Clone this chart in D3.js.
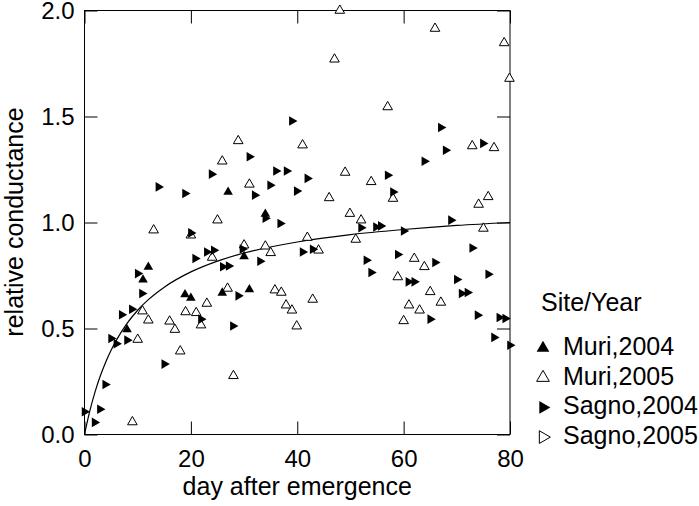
<!DOCTYPE html>
<html>
<head>
<meta charset="utf-8">
<script src="https://cdn.jsdelivr.net/npm/d3@7"></script>
<style>
  html, body { margin: 0; padding: 0; background: #fff; }
  svg { display: block; }
  text { font-family: "Liberation Sans", Arial, Helvetica, sans-serif; fill: #000; }
</style>
</head>
<body>
<svg id="chart" width="699" height="506"></svg>
<script>
// ---- data ----
const xTicks = [0, 20, 40, 60, 80];
const yTicks = [0, 0.5, 1.0, 1.5, 2.0];
const yTickLabels = ["0.0", "0.5", "1.0", "1.5", "2.0"];
const xLabel = "day after emergence";
const yLabel = "relative conductance";
const legendTitle = "Site/Year";
const seriesNames = ["Muri,2004", "Muri,2005", "Sagno,2004", "Sagno,2005"];

// Muri 2004 (filled up triangles): [day, value]
const muri2004 = [
  [27.0, 1.144], [34.0, 1.04], [30.0, 0.84], [12.0, 0.79], [11.0, 0.73],
  [25.9, 0.668], [31.0, 0.684], [18.9, 0.66], [20.0, 0.644], [8.0, 0.495]
];
// Muri 2005 (open up triangles)
const muri2005 = [
  [48.0, 2.0], [65.9, 1.915], [78.9, 1.847], [79.9, 1.679], [47.0, 1.77],
  [57.0, 1.545], [28.9, 1.385], [25.9, 1.289], [41.0, 1.365], [31.0, 1.18],
  [72.9, 1.361], [77.0, 1.352], [49.0, 1.236], [53.9, 1.192], [58.0, 1.113],
  [46.0, 1.116], [75.9, 1.121], [74.1, 1.085], [49.9, 1.042], [52.0, 1.011],
  [25.0, 1.011], [13.0, 0.964], [20.0, 0.94], [75.0, 0.972], [41.9, 0.929],
  [51.0, 0.92], [44.0, 0.869], [62.0, 0.83], [63.9, 0.791], [58.9, 0.743],
  [65.0, 0.673], [67.0, 0.623], [61.0, 0.61], [63.0, 0.586], [60.0, 0.536],
  [42.9, 0.637], [39.0, 0.586], [39.9, 0.511], [24.0, 0.835], [30.0, 0.893],
  [34.0, 0.888], [35.0, 0.857], [26.9, 0.689], [23.0, 0.618], [35.8, 0.681],
  [37.0, 0.67], [37.9, 0.61], [10.9, 0.582], [12.0, 0.539], [10.0, 0.448],
  [16.0, 0.534], [17.0, 0.495], [19.0, 0.578], [21.0, 0.574], [21.9, 0.516],
  [18.0, 0.393], [28.0, 0.277], [9.0, 0.059]
];
// Sagno 2004 (filled right-pointing triangles)
const sagno2004 = [
  [13.9, 1.168], [18.9, 1.137], [20.0, 0.951], [23.9, 1.228], [31.0, 1.31],
  [32.0, 1.129], [34.0, 1.02], [34.9, 1.176], [36.0, 1.243], [38.0, 1.243],
  [36.8, 0.995], [39.0, 1.479], [39.9, 1.148], [67.0, 1.448], [67.9, 1.341],
  [74.9, 1.373], [63.9, 1.289], [41.9, 1.208], [57.0, 1.223], [58.0, 1.144],
  [52.0, 0.975], [54.8, 0.979], [55.7, 0.984], [60.0, 0.96], [68.9, 1.011],
  [41.0, 0.861], [42.9, 0.874], [53.0, 0.822], [53.9, 0.764], [58.9, 0.849],
  [65.9, 0.811], [60.9, 0.72], [62.0, 0.72], [72.9, 0.88], [75.9, 0.756],
  [70.0, 0.731], [70.9, 0.665], [72.0, 0.67], [65.0, 0.544], [73.9, 0.563],
  [78.0, 0.552], [79.1, 0.547], [77.0, 0.458], [80.0, 0.421], [23.0, 0.861],
  [24.3, 0.869], [20.8, 0.83], [29.7, 0.875], [33.0, 0.817], [26.0, 0.791],
  [27.1, 0.795], [10.0, 0.759], [10.8, 0.665], [28.9, 0.654], [7.0, 0.565],
  [8.9, 0.591], [21.9, 0.544], [27.9, 0.512], [5.0, 0.453], [6.0, 0.428],
  [8.0, 0.445], [15.0, 0.332], [3.9, 0.236], [2.9, 0.119], [0.0, 0.107],
  [1.9, 0.057]
];
// Sagno 2005 (open right-pointing triangles) - none visible
const sagno2005 = [];

// fitted curve
const curveDays   = [0, 1, 2, 3, 4, 5, 6, 8, 10, 12, 15, 20, 25, 30, 40, 50, 60, 70, 80];
const curveValues = [0, 0.111, 0.202, 0.278, 0.342, 0.397, 0.445, 0.524, 0.586, 0.636,
                     0.695, 0.767, 0.818, 0.856, 0.908, 0.943, 0.967, 0.986, 1.0];

// ---- drawing ----
(function () {
const svg = d3.select("#chart");
const pL = 84.5, pR = 510, pT = 10.5, pB = 434.5;
const x = d3.scaleLinear().domain([0, 80]).range([pL, pR]);
const y = d3.scaleLinear().domain([0, 2]).range([pB, pT]);
const TICK = 13;
const fs = 24;

// axes with inward ticks
const gB = svg.append("g").attr("transform", `translate(0,${pB})`)
  .call(d3.axisBottom(x).tickValues(xTicks).tickSizeInner(-TICK).tickSizeOuter(0).tickPadding(15).tickFormat(d3.format("d")));
const gL = svg.append("g").attr("transform", `translate(${pL},0)`)
  .call(d3.axisLeft(y).tickValues(yTicks).tickSizeInner(-TICK).tickSizeOuter(0).tickPadding(10)
        .tickFormat((d, i) => yTickLabels[i]));
const gT = svg.append("g").attr("transform", `translate(0,${pT})`)
  .call(d3.axisTop(x).tickValues(xTicks).tickSizeInner(-TICK).tickSizeOuter(0).tickFormat(""));
const gR = svg.append("g").attr("transform", `translate(${pR},0)`)
  .call(d3.axisRight(y).tickValues(yTicks).tickSizeInner(-TICK).tickSizeOuter(0).tickFormat(""));

[gB, gL, gT, gR].forEach(g => {
  g.select(".domain").remove();
  g.selectAll(".tick line").attr("stroke", "#000").attr("stroke-width", 1);
  g.selectAll(".tick text").style("font-size", fs + "px").attr("fill", "#000");
});

// frame
const frame = svg.append("g").attr("stroke", "#000").attr("stroke-width", 1).attr("fill", "none");
frame.append("line").attr("x1", pL).attr("x2", pL).attr("y1", pT - 0.5).attr("y2", pB + 0.5);
frame.append("line").attr("x1", pL).attr("x2", pR).attr("y1", pT).attr("y2", pT);
frame.append("line").attr("x1", pL).attr("x2", pR).attr("y1", pB).attr("y2", pB);
frame.append("line").attr("x1", pR).attr("x2", pR).attr("y1", pT).attr("y2", pB);

// curve
const line = d3.line().x(d => x(d[0])).y(d => y(d[1])).curve(d3.curveMonotoneX);
svg.append("path")
  .datum(curveDays.map((d, i) => [d, curveValues[i]]))
  .attr("d", line).attr("fill", "none").attr("stroke", "#000").attr("stroke-width", 1.2);

// markers
const triSmall = d3.symbol().type(d3.symbolTriangle).size(40);
const triLarge = d3.symbol().type(d3.symbolTriangle).size(70);
const styles = [
  { data: muri2004, rot: 0,  fill: "#000", stroke: "none" },
  { data: muri2005, rot: 0,  fill: "#fff", stroke: "#000" },
  { data: sagno2004, rot: 90, fill: "#000", stroke: "none" },
  { data: sagno2005, rot: 90, fill: "#fff", stroke: "#000" }
];
const drawOrder = [1, 3, 0, 2];
drawOrder.forEach(k => {
  const s = styles[k];
  svg.append("g").selectAll("path").data(s.data).join("path")
    .attr("d", triSmall)
    .attr("transform", d => `translate(${x(d[0])},${y(d[1])}) rotate(${s.rot})`)
    .attr("fill", s.fill).attr("stroke", s.stroke).attr("stroke-width", 1);
});

// axis titles
svg.append("text").attr("x", (pL + pR) / 2).attr("y", 495)
  .attr("text-anchor", "middle").style("font-size", "25px").text(xLabel);
svg.append("text").attr("transform", `translate(23,222) rotate(-90)`)
  .attr("text-anchor", "middle").style("font-size", "25px").text(yLabel);

// legend
const lg = svg.append("g");
lg.append("text").attr("x", 541).attr("y", 311).style("font-size", "25px").text(legendTitle);
seriesNames.forEach((name, i) => {
  const s = styles[i];
  const by = 355 + i * 29.7;
  lg.append("path").attr("d", triLarge)
    .attr("transform", `translate(543,${by - 7}) rotate(${s.rot})`)
    .attr("fill", s.fill).attr("stroke", s.stroke).attr("stroke-width", 1);
  lg.append("text").attr("x", 563).attr("y", by).style("font-size", "25px").text(name);
});
})();
</script>
</body>
</html>
